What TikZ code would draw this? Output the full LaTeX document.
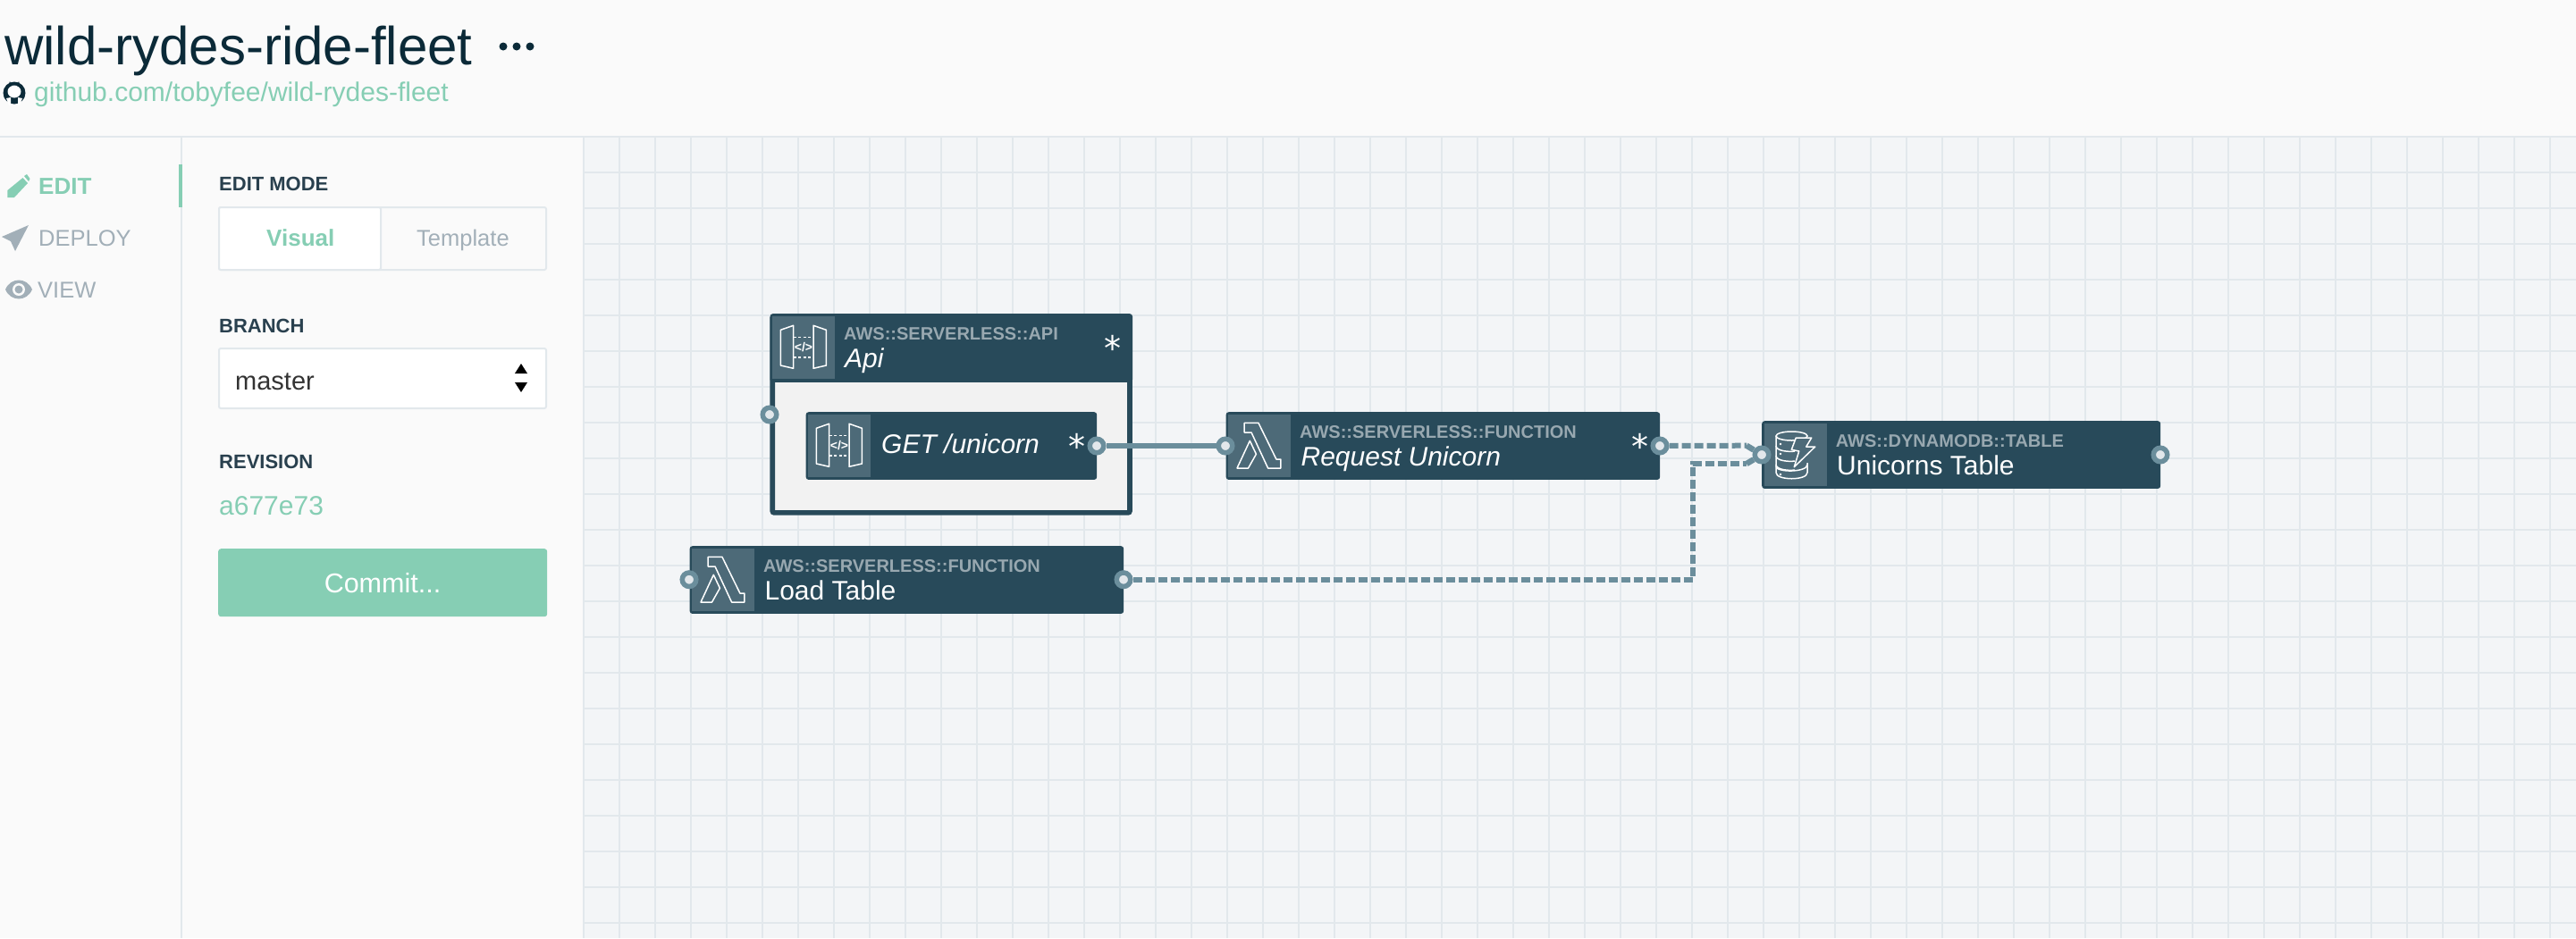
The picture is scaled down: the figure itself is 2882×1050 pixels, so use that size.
\documentclass[tikz,border=0pt]{standalone}
\usepackage{fontspec}
\setmainfont{Liberation Sans}
\newfontfamily\starfont{DejaVu Sans}
\newcommand{\fs}[1]{\fontsize{#1}{#1}\selectfont}
\definecolor{pagebg}{HTML}{FAFAFA}
\definecolor{canvasbg}{HTML}{F3F5F7}
\definecolor{gridcol}{HTML}{E2E8EC}
\definecolor{nodecol}{HTML}{284A5A}
\definecolor{iconcol}{HTML}{4D6A78}
\definecolor{bodycol}{HTML}{F2F2F2}
\definecolor{ringcol}{HTML}{6B8E9C}
\definecolor{corecol}{HTML}{E2E7EB}
\definecolor{kindcol}{HTML}{98A8B0}
\definecolor{mintcol}{HTML}{86CEB4}
\definecolor{titlecol}{HTML}{0B2A38}
\definecolor{inkcol}{HTML}{29404E}
\definecolor{mutedcol}{HTML}{A2AFB8}
\tikzset{
	apiicon/.pic={
		\draw[white, line width=1.5pt, line join=round] (9.3,15.3) -- (23.6,10.3) -- (23.6,58.3) -- (9.3,55) -- cycle;
		\draw[white, line width=1.5pt, line join=round] (46,10.3) -- (60.4,15.3) -- (60.4,55) -- (46,58.3) -- cycle;
		\draw[white, line width=1.5pt, dash pattern=on 3pt off 2.5pt] (23.6,23.3) -- (46,23.3);
		\draw[white, line width=1.5pt, dash pattern=on 3pt off 2.5pt] (23.6,46) -- (46,46);
		\node[white, inner sep=0pt, font=\fs{14}\bfseries] (-code) at (35,34.5) {</>};
	},
	lambdaicon/.pic={
		\draw[white, line width=1.5pt, line join=round] (18.2,9.3) -- (33.9,9.3) -- (53.9,50) -- (58.9,50) -- (58.9,60) -- (44.6,60) -- (26,20) -- (18.2,20) -- cycle;
		\draw[white, line width=1.5pt, line join=round] (10,60) -- (24.3,29.3) -- (31.4,44.3) -- (22.5,60) -- cycle;
	},
	tableicon/.pic={
		\draw[white, line width=1.5pt] (30.5,14) ellipse [x radius=17.5, y radius=5];
		\draw[white, line width=1.5pt] (13,14) -- (13,55) .. controls (13,64) and (48,64) .. (48,55) -- (48,44);
		\foreach \level in {25,36,46}
			\draw[white, line width=1.5pt] (13,\level) .. controls (13,\level+6) and (28,\level+7) .. (34,\level+6);
		\draw[white, line width=1.5pt] (13,48) .. controls (13,55) and (48,55) .. (48,46);
		\foreach \level in {23,34,57}
			\fill[white] (18,\level) circle (1.3);
		\draw[white, fill=iconcol, line width=1.5pt, line join=round] (35.3,16) -- (52.7,16) -- (46.7,26) -- (56.7,26) -- (33.3,48.7) -- (38.7,31) -- (30.3,29.3) -- cycle;
	}
}
\begin{document}
\begin{tikzpicture}[x=1pt, y=-1pt]
	\tikzstyle{resource} = [anchor=north west, fill=nodecol, rounded corners=3pt, inner sep=0pt, minimum height=75.7pt]
	\tikzstyle{iconbox}  = [anchor=north west, fill=iconcol, inner sep=0pt, minimum size=70pt]
	\tikzstyle{port}     = [circle, minimum size=15.5pt, inner sep=0pt, draw=ringcol, fill=corecol, line width=5.5pt]
	\tikzstyle{txt}      = [anchor=base west, inner sep=0pt]
	\tikzstyle{kind}     = [txt, text=kindcol, font=\fs{20}\bfseries]
	\tikzstyle{star}     = [anchor=base, inner sep=0pt, text=white, font=\fs{38}\starfont]
	\tikzstyle{formbox}  = [anchor=north west, draw=gridcol, line width=2pt, rounded corners=2pt, inner sep=0pt]
	\tikzstyle{wire}     = [ringcol, line width=6.5pt]
	\tikzstyle{dashwire} = [wire, line width=6pt, dash pattern=on 10pt off 4pt]

	% page and canvas
	\useasboundingbox (0,0) rectangle (2882,1050);
	\fill[pagebg] (0,0) rectangle (2882,1050);
	\fill[canvasbg] (653,153) rectangle (2882,1050);
	\foreach \x in {653,693,...,2882}
		\draw[gridcol, line width=2pt] (\x,153) -- (\x,1050);
	\foreach \y in {153,193,...,1050}
		\draw[gridcol, line width=2pt] (653,\y) -- (2882,\y);
	\draw[gridcol, line width=2pt] (0,153) -- (653,153);
	\draw[gridcol, line width=2pt] (203,153) -- (203,1050);
	\fill[mintcol] (200,184) rectangle (204,232);

	% header
	\node[txt, text=titlecol, font=\fs{60}] (repo) at (5,72) {wild-rydes-ride-fleet};
	\foreach \x in {563,578,593}
		\fill[titlecol] (\x,52) circle (4.5);
	\fill[titlecol] (16,104) circle (12.5);
	\fill[white] (16,102.5) ellipse [x radius=7.5, y radius=7];
	\fill[white] (7,110) -- (12,109) -- (12,118) -- (10,118) -- cycle;
	\fill[white] (25,110) -- (20,109) -- (20,118) -- (22,118) -- cycle;
	\fill[titlecol] (11,91) -- (13,96) -- (9,98) -- cycle;
	\fill[titlecol] (21,91) -- (19,96) -- (23,98) -- cycle;
	\node[txt, text=mintcol, font=\fs{30}] (link) at (38,113) {github.com/tobyfee/wild-rydes-fleet};

	% left menu
	\fill[mintcol] (8.4,213) -- (25.5,199) -- (31,205) -- (16,221) -- (8.4,221) -- cycle;
	\fill[mintcol] (27,197) -- (30,195) -- (33.5,200) -- (32,203) -- cycle;
	\node[txt, text=mintcol, font=\fs{26}\bfseries] (edit) at (43,217) {EDIT};
	\fill[mutedcol] (32,252) -- (2,265) -- (12,270) -- (17,281) -- cycle;
	\node[txt, text=mutedcol, font=\fs{25.5}] (deploy) at (43,275) {DEPLOY};
	\fill[mutedcol] (6,324) .. controls (12,310) and (30,310) .. (36,324) .. controls (30,338) and (12,338) .. (6,324);
	\fill[pagebg] (21,324) circle (7);
	\fill[mutedcol] (21,324) circle (4.5);
	\node[txt, text=mutedcol, font=\fs{25.5}] (view) at (42,333) {VIEW};

	% form column
	\node[txt, text=inkcol, font=\fs{22}\bfseries] (modelabel) at (245,213) {EDIT MODE};
	\node[formbox, fill=pagebg, minimum width=366pt, minimum height=70pt] (modebox) at (244,231) {};
	\node[formbox, fill=white, minimum width=181pt, minimum height=70pt] (visualbox) at (244,231) {};
	\node[txt, text=mintcol, font=\fs{26}\bfseries] (visual) at (298,275) {Visual};
	\node[txt, text=mutedcol, font=\fs{25.5}] (template) at (466,275) {Template};
	\node[txt, text=inkcol, font=\fs{22}\bfseries] (branchlabel) at (245,372) {BRANCH};
	\node[formbox, fill=white, minimum width=366pt, minimum height=67pt] (branchbox) at (244,389) {};
	\node[txt, text=black!80, font=\fs{29}] (master) at (263,436) {master};
	\fill[black] (583,407) -- (590,418) -- (576,418) -- cycle;
	\fill[black] (583,439) -- (590,428) -- (576,428) -- cycle;
	\node[txt, text=inkcol, font=\fs{22}\bfseries] (revlabel) at (245,524) {REVISION};
	\node[txt, text=mintcol, font=\fs{30}] (rev) at (245,576) {a677e73};
	\node[anchor=north west, fill=mintcol, rounded corners=3pt, inner sep=0pt, minimum width=368pt, minimum height=76pt] (commitbox) at (244,614) {};
	\node[text=white, inner sep=0pt, font=\fs{30.5}, anchor=base] at (428,663) (commit) {Commit...};

	% Api container
	\node[anchor=north west, fill=bodycol, draw=nodecol, line width=5.7pt, rounded corners=2pt, inner sep=0pt, minimum width=399.7pt, minimum height=220pt] (api) at (861.4,351) {};
	\node[resource, minimum width=405.4pt, minimum height=76.7pt] (apihead) at (861.4,351) {};
	\node[resource, minimum width=325.6pt] (getnode) at (901.4,461) {};
	\node[kind] (apikind) at (944,380) {AWS::SERVERLESS::API};
	\node[txt, text=white, font=\fs{30}\itshape] (apiname) at (945,411.7) {Api};
	\node[txt, text=white, font=\fs{30}\itshape] (getname) at (986,507.7) {GET /unicorn};

	% the other resources
	\foreach \name/\x/\y/\w/\kindtext/\nametext/\sty in {
		request/1371.4/461/485.6/{AWS::SERVERLESS::FUNCTION}/{Request Unicorn}/\itshape,
		load/771.4/611/485.6/{AWS::SERVERLESS::FUNCTION}/{Load Table}/\relax,
		unicorns/1971/471/446/{AWS::DYNAMODB::TABLE}/{Unicorns Table}/\relax}
	{
		\node[resource, minimum width=\w pt] (\name) at (\x,\y) {};
		\node[kind] (\name kind) at (\x+82.6,\y+29) {\kindtext};
		\node[txt, text=white, font=\fs{30}\sty] (\name text) at (\x+84,\y+60.7) {\nametext};
	}

	% icons
	\foreach \name/\x/\y in {icona/864/354, iconb/904/464, iconc/1374/464, icond/774/614, icone/1974/474}
		\node[iconbox] (\name) at (\x,\y) {};
	\foreach \x/\y in {864/354, 904/464}
		\pic at (\x,\y) {apiicon};
	\foreach \x/\y in {1374/464, 774/614}
		\pic at (\x,\y) {lambdaicon};
	\pic at (1974,474) {tableicon};

	\foreach \name/\x/\y in {apistar/1245/403, getstar/1205/513, reqstar/1835/513}
		\node[star] (\name) at (\x,\y) {*};

	% ports
	\foreach \name/\x/\y in {apiin/861/464, getout/1227/499, reqin/1371/499, reqout/1857/499, loadin/771/648.7, loadout/1257/648.7, tablein/1971/509, tableout/2417/509}
		\node[port] (\name) at (\x,\y) {};

	% connectors
	\coordinate (upperjoin) at (1954,498.7);
	\coordinate (lowerjoin) at (1954,519);
	\coordinate (bendlow) at (1894,648.7);
	\coordinate (bendhigh) at (1894,519);
	\draw[wire] (getout) -- (reqin);
	\draw[dashwire] (reqout) -- (upperjoin);
	\draw[dashwire] (loadout) -- (bendlow) -- (bendhigh) -- (lowerjoin);
	\draw[wire] (upperjoin) -- (tablein);
	\draw[wire] (lowerjoin) -- (tablein);
\end{tikzpicture}
\end{document}
